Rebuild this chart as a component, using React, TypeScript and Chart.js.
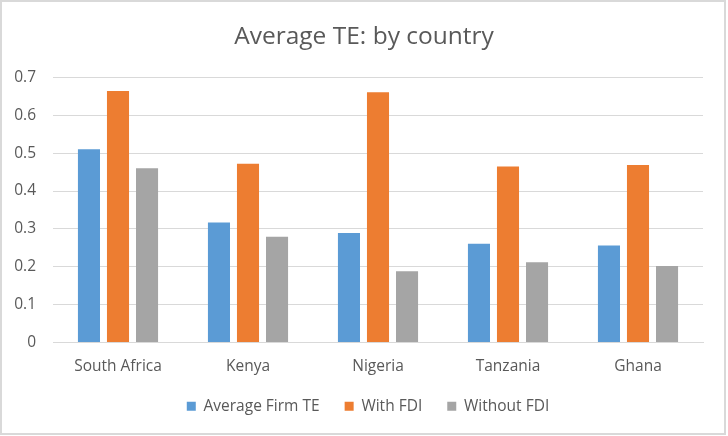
import React, { useEffect, useRef } from "react";
import { Chart, registerables } from "chart.js";

Chart.register(...registerables);

const categories = ["South Africa", "Kenya", "Nigeria", "Tanzania", "Ghana"];
const averageFirmTE = [0.51, 0.317, 0.289, 0.261, 0.256];
const withFDI = [0.664, 0.472, 0.661, 0.465, 0.469];
const withoutFDI = [0.46, 0.279, 0.188, 0.212, 0.202];
const seriesNames = ["Average Firm TE", "With FDI", "Without FDI"];
const titleText = "Average TE: by country";

const FONT = "'Open Sans', sans-serif";
const TEXT = "#595959";
const GRID = "#d9d9d9";

// fine-tune title and legend placement inside the chart box
const placeShift = {
  id: "placeShift",
  afterLayout(chart: any) {
    const t = chart.titleBlock;
    if (t) {
      t.left += 11.5;
      t.right += 11.5;
    }
    const l = chart.legend;
    if (l) {
      l.left += 15.5;
      l.right += 15.5;
      l.top -= 9;
      l.bottom -= 9;
    }
  },
};

export default function App() {
  const ref = useRef<HTMLCanvasElement | null>(null);

  useEffect(() => {
    if (!ref.current) return;
    const chart = new Chart(ref.current, {
      type: "bar",
      data: {
        labels: categories,
        datasets: [
          { label: seriesNames[0], data: averageFirmTE, backgroundColor: "#5b9bd5" },
          { label: seriesNames[1], data: withFDI, backgroundColor: "#ed7d31" },
          { label: seriesNames[2], data: withoutFDI, backgroundColor: "#a5a5a5" },
        ],
      },
      plugins: [placeShift],
      options: {
        animation: false,
        responsive: false,
        maintainAspectRatio: false,
        datasets: { bar: { categoryPercentage: 0.67, barPercentage: 0.76 } },
        layout: { padding: { left: 0, right: 21, top: 0, bottom: 0 } },
        plugins: {
          title: {
            display: true,
            text: titleText,
            color: TEXT,
            font: { family: FONT, size: 24.5, weight: "normal" },
            padding: { top: 20, bottom: 26 },
          },
          legend: {
            position: "bottom",
            labels: {
              color: TEXT,
              font: { family: FONT, size: 15.5 },
              boxWidth: 9,
              boxHeight: 9,
              padding: 25,
            },
          },
          tooltip: { enabled: false },
        },
        scales: {
          x: {
            grid: { display: false, drawTicks: false },
            border: { display: true, color: GRID, width: 1 },
            ticks: { color: TEXT, font: { family: FONT, size: 15.5 }, padding: 15 },
            afterFit: (s: any) => {
              s.height = 40;
            },
          },
          y: {
            min: 0,
            max: 0.7,
            ticks: {
              stepSize: 0.1,
              color: TEXT,
              font: { family: FONT, size: 15.5 },
              padding: 17,
              callback: (v: any) => (Number(v) === 0 ? "0" : Number(v).toFixed(1)),
            },
            grid: { color: GRID, lineWidth: 1, drawTicks: false },
            border: { display: false },
            afterFit: (s: any) => {
              s.width = 51;
            },
          },
        },
      },
    });
    return () => chart.destroy();
  }, []);

  return (
    <div
      style={{
        position: "absolute",
        left: 0,
        top: 0,
        width: 726,
        height: 435,
        border: "2px solid #d9d9d9",
        boxSizing: "border-box",
        background: "#fff",
      }}
    >
      <canvas ref={ref} width={722} height={431} style={{ display: "block" }} />
    </div>
  );
}
